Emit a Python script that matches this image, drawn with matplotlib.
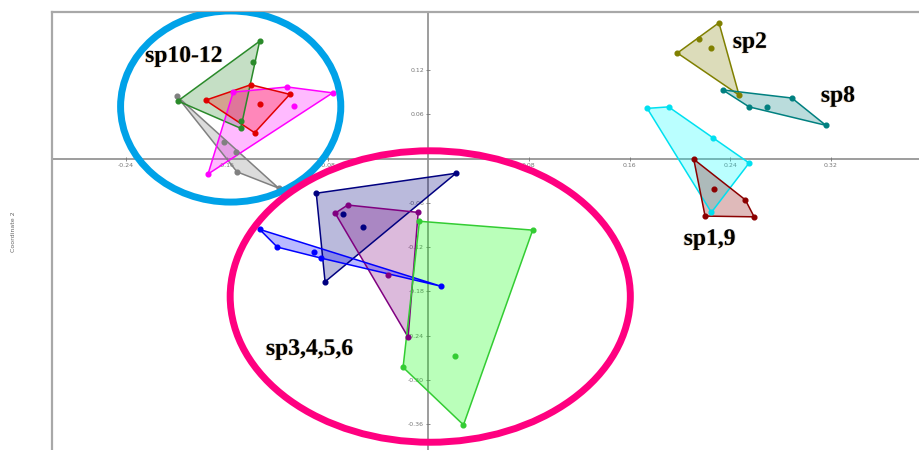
import numpy as np
import matplotlib
matplotlib.use("Agg")
import matplotlib.pyplot as plt
from matplotlib.patches import Ellipse, Polygon
from matplotlib.lines import Line2D
import matplotlib.patheffects as pe

# group scores (coordinate 1, coordinate 2)
g_darkgreen = [(-0.134, 0.159), (-0.139, 0.131), (-0.199, 0.078), (-0.149, 0.051), (-0.149, 0.041)]
g_red = [(-0.177, 0.079), (-0.141, 0.100), (-0.110, 0.087), (-0.138, 0.035), (-0.134, 0.074)]
g_magenta = [(-0.175, -0.021), (-0.155, 0.090), (-0.112, 0.097), (-0.076, 0.089), (-0.107, 0.071)]
g_gray = [(-0.200, 0.085), (-0.162, 0.022), (-0.153, 0.009), (-0.152, -0.018), (-0.119, -0.040)]
g_olive = [(0.231, 0.184), (0.215, 0.162), (0.225, 0.150), (0.198, 0.143), (0.247, 0.086)]
g_teal = [(0.234, 0.093), (0.255, 0.070), (0.269, 0.070), (0.289, 0.082), (0.316, 0.045)]
g_cyan = [(0.174, 0.068), (0.191, 0.070), (0.226, 0.028), (0.255, -0.006), (0.225, -0.073)]
g_maroon = [(0.211, -0.001), (0.227, -0.041), (0.252, -0.056), (0.259, -0.079), (0.220, -0.078)]
g_navy = [(-0.089, -0.047), (0.022, -0.020), (-0.082, -0.167), (-0.068, -0.075), (-0.052, -0.093)]
g_purple = [(-0.064, -0.063), (-0.074, -0.074), (-0.008, -0.073), (-0.032, -0.158), (-0.016, -0.242)]
g_blue = [(-0.134, -0.096), (-0.120, -0.120), (-0.091, -0.127), (-0.085, -0.135), (0.010, -0.173)]
g_lime = [(-0.007, -0.085), (0.083, -0.097), (-0.020, -0.283), (0.021, -0.268), (0.028, -0.361)]

groups = [
    (g_gray, "#808080", "#808080"),
    (g_darkgreen, "#2a8a2a", "#2a8a2a"),
    (g_magenta, "#ff00ff", "#ff00ff"),
    (g_red, "#ff0000", "#e00000"),
    (g_olive, "#808000", "#808000"),
    (g_teal, "#008080", "#008080"),
    (g_cyan, "#00ffff", "#00e0f0"),
    (g_maroon, "#8b0000", "#8b0000"),
    (g_navy, "#000080", "#000080"),
    (g_purple, "#800080", "#800080"),
    (g_blue, "#0000ff", "#0000ff"),
    (g_lime, "#00ff00", "#33cc33"),
]

labels = ["sp10-12", "sp2", "sp8", "sp1,9", "sp3,4,5,6"]
label_xy = [(-0.225, 0.131), (0.242, 0.150), (0.312, 0.077), (0.203, -0.117), (-0.129, -0.266)]

# hand-drawn circles round the two clusters: (centre x, centre y, width, height)
circle_blue = (-0.157, 0.0705, 0.175, 0.259)
circle_pink = (0.0016, -0.187, 0.318, 0.395)

xticks = [-0.24, -0.16, -0.08, 0.08, 0.16, 0.24, 0.32]
yticks = [-0.36, -0.30, -0.24, -0.18, -0.12, -0.06, 0.06, 0.12]


def hull(pts):
    pts = sorted(set(pts))
    def cross(o, a, b):
        return (a[0] - o[0]) * (b[1] - o[1]) - (a[1] - o[1]) * (b[0] - o[0])
    lower, upper = [], []
    for p in pts:
        while len(lower) >= 2 and cross(lower[-2], lower[-1], p) <= 0:
            lower.pop()
        lower.append(p)
    for p in reversed(pts):
        while len(upper) >= 2 and cross(upper[-2], upper[-1], p) <= 0:
            upper.pop()
        upper.append(p)
    return lower[:-1] + upper[:-1]


fig = plt.figure(figsize=(9.19, 4.5), dpi=100)
ax = fig.add_axes([52 / 919, 0, 867 / 919, 438 / 450])
ax.set_xlim(-0.299, 0.390)
ax.set_ylim(-0.395, 0.1986)

for pts, c, ec in groups:
    h = hull(pts)
    ax.add_patch(Polygon(h, closed=True, facecolor=c, alpha=0.27, edgecolor="none", zorder=2))
    ax.add_patch(Polygon(h, closed=True, facecolor="none", edgecolor=ec, lw=1.1, zorder=3))
    xs, ys = zip(*pts)
    ax.plot(xs, ys, "o", ms=3.4, color=ec, zorder=4)

# axes through the origin
for s in ("left", "bottom"):
    ax.spines[s].set_position(("data", 0))
    ax.spines[s].set_color("#8c8c8c")
    ax.spines[s].set_linewidth(1.2)
    ax.spines[s].set_zorder(1)
ax.spines["right"].set_visible(False)
ax.spines["top"].set_color("#a8a8a8")
ax.spines["top"].set_linewidth(1.6)
ax.add_line(Line2D([0, 0], [0, 1], transform=ax.transAxes, color="#a8a8a8", lw=1.6, clip_on=False))

ax.set_xticks(xticks)
ax.set_yticks(yticks)
ax.set_xticklabels([f"{v:.2f}" for v in xticks])
ax.set_yticklabels([f"{v:.2f}" for v in yticks])
ax.tick_params(direction="inout", length=3, width=0.6, labelsize=4.5, colors="#777777", pad=1.5)

shadow = [pe.SimplePatchShadow(offset=(-0.6, -0.3), shadow_rgbFace="#f0a040", alpha=0.6),
          pe.SimplePatchShadow(offset=(0.6, 0.2), shadow_rgbFace="#4080d0", alpha=0.35),
          pe.Normal()]
for lab, (x, y) in zip(labels, label_xy):
    ax.text(x, y, lab, ha="left", va="baseline", fontsize=17, fontweight="bold",
            family="Liberation Serif", color="black", zorder=6, path_effects=shadow)

for (cx, cy, w, hgt), col in [(circle_blue, "#00a2e8"), (circle_pink, "#ff0080")]:
    ax.add_patch(Ellipse((cx, cy), w, hgt, fill=False, edgecolor=col, lw=5, zorder=5))

fig.text(14 / 919, 1 - 232 / 450, "Coordinate 2", rotation=90, fontsize=4.5,
         color="#666666", ha="center", va="center")

fig.savefig("out.png", dpi=100)
